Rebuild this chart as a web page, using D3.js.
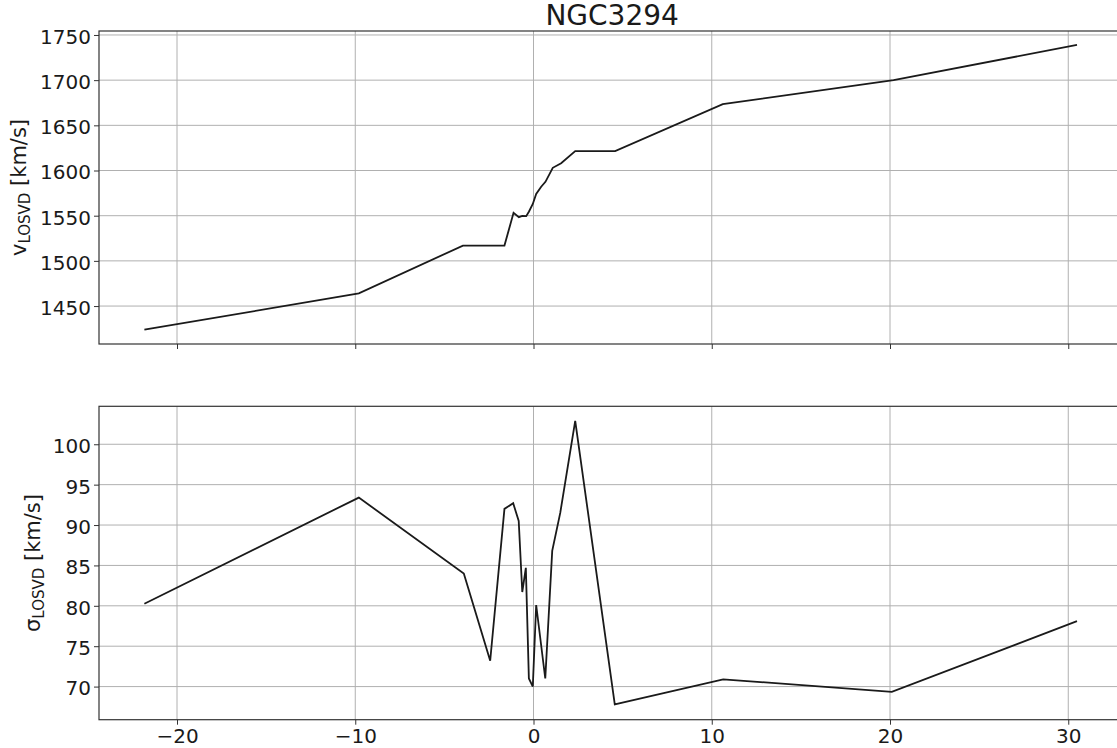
<!DOCTYPE html>
<html>
<head>
<meta charset="utf-8">
<script src="https://cdn.jsdelivr.net/npm/d3@7"></script>
<style>
  html, body { margin: 0; padding: 0; background: #fff; }
  svg { display: block; overflow: hidden; }
  text { font-family: "DejaVu Sans", sans-serif; fill: #1a1a1a; }
</style>
</head>
<body>
<svg id="chart" width="1117" height="748"></svg>
<script>
// ---- data ----
const title = "NGC3294";
const radiusTop = [-21.83, -9.8, -3.96, -1.63, -1.12, -0.82, -0.63, -0.41, -0.26, -0.04, 0.15, 0.43, 0.67, 1.08, 1.55, 2.34, 4.58, 10.62, 20.2, 30.49];
const velocity  = [1423.8, 1464, 1516.9, 1516.9, 1553.3, 1548.4, 1549.7, 1549.5, 1554.4, 1563, 1574, 1582, 1587.5, 1603, 1608, 1621.4, 1621.4, 1673.5, 1700, 1739];
const radiusBottom = [-21.83, -9.8, -3.91, -2.43, -1.63, -1.14, -0.83, -0.63, -0.43, -0.26, -0.04, 0.15, 0.66, 1.05, 1.5, 2.34, 4.56, 10.64, 20.1, 30.49];
const dispersion   = [80.25, 93.4, 84.0, 73.2, 92.0, 92.7, 90.5, 81.7, 84.7, 71.0, 70.0, 80.1, 71.0, 86.8, 91.5, 102.9, 67.8, 70.9, 69.35, 78.1];
const xTicks = [-20, -10, 0, 10, 20, 30];
const vTicks = [1450, 1500, 1550, 1600, 1650, 1700, 1750];
const sTicks = [70, 75, 80, 85, 90, 95, 100];

// ---- layout ----
const svg = d3.select("#chart");
const left = 99, right = 1125.3;
const x = d3.scaleLinear().domain([-24.376, 33.2]).range([left, right]);
const yTop = d3.scaleLinear().domain([1408, 1754.4]).range([344, 31]);
const yBot = d3.scaleLinear().domain([65.9, 104.7]).range([719.7, 406.3]);
const fmt = d3.format("");

function panel(ys, xs, vals, yTicks, showXLabels, labelMain, labelX) {
  const [y0, y1] = ys.range();
  const g = svg.append("g");
  // grid
  g.append("g").selectAll("line").data(xTicks).join("line")
    .attr("x1", d => x(d)).attr("x2", d => x(d)).attr("y1", y1).attr("y2", y0)
    .attr("stroke", "#b0b0b0").attr("stroke-width", 1);
  g.append("g").selectAll("line").data(yTicks).join("line")
    .attr("x1", left).attr("x2", right).attr("y1", d => ys(d)).attr("y2", d => ys(d))
    .attr("stroke", "#b0b0b0").attr("stroke-width", 1);
  // line
  const line = d3.line().x(d => x(d[0])).y(d => ys(d[1]));
  g.append("path").datum(xs.map((r, i) => [r, vals[i]]))
    .attr("d", line).attr("fill", "none").attr("stroke", "#1a1a1a")
    .attr("stroke-width", 1.8).attr("stroke-linejoin", "miter");
  // axes
  const yAxis = d3.axisLeft(ys).tickValues(yTicks).tickSize(5).tickPadding(3).tickFormat(fmt);
  const ga = g.append("g").attr("transform", `translate(${left},0)`).call(yAxis);
  const xAxis = d3.axisBottom(x).tickValues(xTicks).tickSize(5).tickPadding(4)
    .tickFormat(showXLabels ? d => (d < 0 ? "\u2212" + Math.abs(d) : String(d)) : "");
  const gx = g.append("g").attr("transform", `translate(0,${y0})`).call(xAxis);
  [ga, gx].forEach(a => {
    a.select(".domain").remove();
    a.selectAll(".tick line").attr("stroke", "#333").attr("stroke-width", 1);
    a.selectAll(".tick text").attr("font-size", 20).attr("fill", "#1a1a1a")
      .attr("font-family", "DejaVu Sans, sans-serif");
  });
  ga.selectAll(".tick text").attr("dy", "0.42em");
  // frame
  g.append("rect").attr("x", left).attr("y", y1).attr("width", right - left).attr("height", y0 - y1)
    .attr("fill", "none").attr("stroke", "#333").attr("stroke-width", 1.2);
  // y label
  const cy = (y0 + y1) / 2;
  const t = g.append("text").attr("transform", `translate(${labelX},${cy}) rotate(-90)`)
    .attr("text-anchor", "middle").attr("font-size", 21);
  t.append("tspan").text(labelMain);
  t.append("tspan").attr("font-size", 15).attr("dy", 4).text("LOSVD");
  t.append("tspan").attr("dy", -4).text(" [km/s]");
}

panel(yTop, radiusTop, velocity, vTicks, false, "v", 26);
panel(yBot, radiusBottom, dispersion, sTicks, true, "σ", 40);

svg.append("text").attr("x", (left + right) / 2).attr("y", 25)
  .attr("text-anchor", "middle").attr("font-size", 28).text(title);
</script>
</body>
</html>
